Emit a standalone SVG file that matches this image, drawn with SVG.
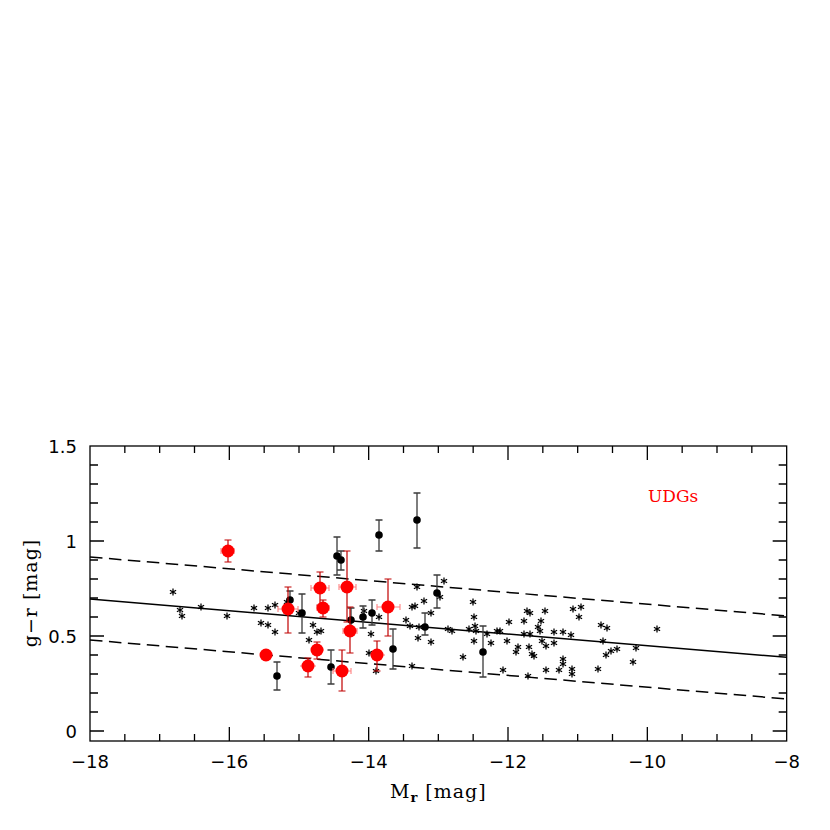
<svg xmlns="http://www.w3.org/2000/svg" xmlns:xlink="http://www.w3.org/1999/xlink" width="830" height="830" viewBox="0 0 830 830">
<style>
.ax{fill:none;stroke:#000;stroke-width:1.3}
.tk{font-family:"DejaVu Sans",sans-serif;font-size:18px;fill:#000}
.lb{font-family:"DejaVu Serif",serif;font-size:19px;fill:#000;letter-spacing:1px}
.eb{fill:none;stroke:#3a3a3a;stroke-width:1.3}
.ebr{fill:none;stroke:#c00000;stroke-width:1.2}
.ebh{fill:none;stroke:#ff8080;stroke-width:1.1}
.bk{fill:#000}
.rd{fill:#ff0000}
</style>
<defs>
<path id="st" d="M0,-3.6V3.6M-3.1,-1.8L3.1,1.8M-3.1,1.8L3.1,-1.8" stroke="#000" stroke-width="1.25" fill="none"/>
</defs>
<rect width="830" height="830" fill="#fff"/>
<g id="axes">
<rect class="ax" x="90" y="446" width="696.67" height="295"/>
<path class="ax" d="M124.83,741v-7M159.67,741v-7M194.5,741v-7M229.33,741v-14M264.17,741v-7M299,741v-7M333.83,741v-7M368.67,741v-14M403.5,741v-7M438.33,741v-7M473.17,741v-7M508,741v-14M542.83,741v-7M577.67,741v-7M612.5,741v-7M647.33,741v-14M682.17,741v-7M717,741v-7M751.83,741v-7
M124.83,446v7M159.67,446v7M194.5,446v7M229.33,446v14M264.17,446v7M299,446v7M333.83,446v7M368.67,446v14M403.5,446v7M438.33,446v7M473.17,446v7M508,446v14M542.83,446v7M577.67,446v7M612.5,446v7M647.33,446v14M682.17,446v7M717,446v7M751.83,446v7
M90,731h14M90,712h8M90,693h8M90,674h8M90,655h8M90,636h14M90,617h8M90,598h8M90,579h8M90,560h8M90,541h14M90,522h8M90,503h8M90,484h8M90,465h8
M786.67,731h-14M786.67,712h-8M786.67,693h-8M786.67,674h-8M786.67,655h-8M786.67,636h-14M786.67,617h-8M786.67,598h-8M786.67,579h-8M786.67,560h-8M786.67,541h-14M786.67,522h-8M786.67,503h-8M786.67,484h-8M786.67,465h-8"/>
<g class="tk" text-anchor="end">
<text x="77" y="453">1.5</text>
<text x="77" y="548">1</text>
<text x="77" y="643">0.5</text>
<text x="77" y="738">0</text>
</g>
<g class="tk" text-anchor="middle">
<text x="90" y="768">−18</text>
<text x="229.33" y="768">−16</text>
<text x="368.67" y="768">−14</text>
<text x="508" y="768">−12</text>
<text x="647.33" y="768">−10</text>
<text x="786.67" y="768">−8</text>
</g>
<text class="lb" x="0" y="0" text-anchor="middle" transform="translate(37,593) rotate(-90)">g−r [mag]</text>
<text class="lb" x="390" y="798">M<tspan font-size="13" font-weight="bold" dy="4">r</tspan><tspan dy="-4"> [mag]</tspan></text>
<text x="648" y="502" font-family="DejaVu Serif, serif" font-size="17" fill="#ff0000">UDGs</text>
</g>
<g id="fit-lines" fill="none" stroke="#000" stroke-width="1.5">
<path d="M90,599L786.67,657.3"/>
<path d="M90,557L786.67,616" stroke-dasharray="12.5 6.5"/>
<path d="M90,640L786.67,699" stroke-dasharray="12.5 6.5"/>
</g>
<g id="dwarfs">
<use xlink:href="#st" x="173" y="592"/><use xlink:href="#st" x="180" y="610"/><use xlink:href="#st" x="182" y="616"/><use xlink:href="#st" x="201" y="607"/><use xlink:href="#st" x="227" y="616"/><use xlink:href="#st" x="254" y="608"/><use xlink:href="#st" x="268" y="608"/><use xlink:href="#st" x="275" y="605"/><use xlink:href="#st" x="261" y="623"/><use xlink:href="#st" x="268" y="625"/><use xlink:href="#st" x="275" y="632"/><use xlink:href="#st" x="287" y="602"/><use xlink:href="#st" x="299" y="613"/><use xlink:href="#st" x="313" y="625"/><use xlink:href="#st" x="317" y="632"/><use xlink:href="#st" x="321" y="631"/><use xlink:href="#st" x="309" y="640"/>
<use xlink:href="#st" x="364" y="611"/><use xlink:href="#st" x="379" y="617"/><use xlink:href="#st" x="371" y="634"/><use xlink:href="#st" x="369" y="653"/><use xlink:href="#st" x="376" y="671"/><use xlink:href="#st" x="406" y="620"/><use xlink:href="#st" x="410" y="626"/><use xlink:href="#st" x="412" y="607"/><use xlink:href="#st" x="415" y="606"/><use xlink:href="#st" x="424" y="601"/><use xlink:href="#st" x="431" y="613"/><use xlink:href="#st" x="418" y="638"/><use xlink:href="#st" x="431" y="642"/><use xlink:href="#st" x="419" y="627"/><use xlink:href="#st" x="448" y="629"/><use xlink:href="#st" x="452" y="631"/><use xlink:href="#st" x="469" y="629"/><use xlink:href="#st" x="412" y="666"/><use xlink:href="#st" x="463" y="657"/><use xlink:href="#st" x="440" y="597"/><use xlink:href="#st" x="444" y="581"/><use xlink:href="#st" x="417" y="587"/>
<use xlink:href="#st" x="473" y="602"/><use xlink:href="#st" x="474" y="617"/><use xlink:href="#st" x="475" y="626"/><use xlink:href="#st" x="476" y="631"/><use xlink:href="#st" x="487" y="634"/><use xlink:href="#st" x="497" y="631"/><use xlink:href="#st" x="500" y="631"/><use xlink:href="#st" x="474" y="641"/><use xlink:href="#st" x="491" y="643"/><use xlink:href="#st" x="507" y="641"/><use xlink:href="#st" x="509" y="622"/><use xlink:href="#st" x="524" y="621"/><use xlink:href="#st" x="527" y="611"/><use xlink:href="#st" x="530" y="613"/><use xlink:href="#st" x="545" y="611"/><use xlink:href="#st" x="541" y="621"/><use xlink:href="#st" x="538" y="627"/><use xlink:href="#st" x="540" y="631"/><use xlink:href="#st" x="524" y="634"/><use xlink:href="#st" x="530" y="634"/><use xlink:href="#st" x="554" y="632"/><use xlink:href="#st" x="563" y="632"/><use xlink:href="#st" x="542" y="641"/><use xlink:href="#st" x="546" y="646"/><use xlink:href="#st" x="554" y="643"/><use xlink:href="#st" x="518" y="647"/><use xlink:href="#st" x="516" y="652"/><use xlink:href="#st" x="529" y="647"/><use xlink:href="#st" x="532" y="654"/><use xlink:href="#st" x="534" y="656"/><use xlink:href="#st" x="563" y="659"/><use xlink:href="#st" x="563" y="664"/><use xlink:href="#st" x="503" y="670"/><use xlink:href="#st" x="546" y="670"/><use xlink:href="#st" x="559" y="670"/><use xlink:href="#st" x="528" y="676"/><use xlink:href="#st" x="571" y="635"/><use xlink:href="#st" x="572" y="669"/><use xlink:href="#st" x="572" y="674"/><use xlink:href="#st" x="598" y="669"/>
<use xlink:href="#st" x="573" y="609"/><use xlink:href="#st" x="581" y="607"/><use xlink:href="#st" x="579" y="617"/><use xlink:href="#st" x="601" y="625"/><use xlink:href="#st" x="607" y="628"/><use xlink:href="#st" x="657" y="629"/><use xlink:href="#st" x="603" y="641"/><use xlink:href="#st" x="611" y="651"/><use xlink:href="#st" x="617" y="649"/><use xlink:href="#st" x="636" y="648"/><use xlink:href="#st" x="606" y="655"/><use xlink:href="#st" x="633" y="662"/>
</g>
<g id="black-points">
<path class="eb" d="M290,591V612M286.5,591h7
M277,662V690M273.5,662h7M273.5,690h7
M302,594V633M298.5,594h7M298.5,633h7
M331,650V684M327.5,650h7M327.5,684h7
M337,537V575M333.5,537h7M333.5,575h7
M341,551V570M337.5,551h7M337.5,570h7
M351,608V630M347.5,608h7M347.5,630h7
M363,606V628M359.5,606h7M359.5,628h7
M372,600V625M368.5,600h7M368.5,625h7
M379,520V551M375.5,520h7M375.5,551h7
M393,629V669M389.5,629h7M389.5,669h7
M417,493V548M413.5,493h7M413.5,548h7
M425,613V635M421.5,613h7M421.5,635h7
M437,575V608M433.5,575h7M433.5,608h7
M483,626V677M479.5,626h7M479.5,677h7"/>
<g class="bk">
<circle cx="290" cy="600" r="3.8"/><circle cx="277" cy="676" r="3.8"/><circle cx="302" cy="613" r="3.8"/><circle cx="331" cy="667" r="3.8"/><circle cx="337" cy="556" r="3.8"/><circle cx="341" cy="560" r="3.8"/><circle cx="351" cy="620" r="3.8"/><circle cx="363" cy="617" r="3.8"/><circle cx="372" cy="613" r="3.8"/><circle cx="379" cy="535" r="3.8"/><circle cx="393" cy="649" r="3.8"/><circle cx="417" cy="520" r="3.8"/><circle cx="425" cy="627" r="3.8"/><circle cx="437" cy="593" r="3.8"/><circle cx="483" cy="652" r="3.8"/>
</g>
</g>
<g id="udgs">
<path class="ebh" d="M221,551H234M221,548v6M234,548v6
M278,609H298M278,606v6M298,606v6
M300,666H316
M311,650H324
M311,588H329M311,585v6M329,585v6
M317,608H329M317,605v6M329,605v6
M339,587H356M339,584v6M356,584v6
M343,631H357M343,628v6M357,628v6
M377,607H400M377,604v6M400,604v6
M370,655H385
M333,671H351M333,668v6M351,668v6"/>
<path class="ebr" d="M228,540V562M224.5,540h7M224.5,562h7
M288,587V633M284.5,587h7M284.5,633h7
M308,658V677M304.5,658h7M304.5,677h7
M317,642V659M313.5,642h7M313.5,659h7
M320,572V605M316.5,572h7M316.5,605h7
M323,600V617M319.5,600h7M319.5,617h7
M347,551V622M343.5,551h7M343.5,622h7
M350,607V653M346.5,607h7M346.5,653h7
M388,579V636M384.5,579h7M384.5,636h7
M377,641V671M373.5,641h7M373.5,671h7
M342,650V691M338.5,650h7M338.5,691h7"/>
<g class="rd">
<circle cx="228" cy="551" r="6.5"/><circle cx="266" cy="655" r="6.5"/><circle cx="288" cy="609" r="6.5"/><circle cx="308" cy="666" r="6.5"/><circle cx="317" cy="650" r="6.5"/><circle cx="320" cy="588" r="6.5"/><circle cx="323" cy="608" r="6.5"/><circle cx="347" cy="587" r="6.5"/><circle cx="350" cy="631" r="6.5"/><circle cx="388" cy="607" r="6.5"/><circle cx="377" cy="655" r="6.5"/><circle cx="342" cy="671" r="6.5"/>
</g>
</g>
</svg>
